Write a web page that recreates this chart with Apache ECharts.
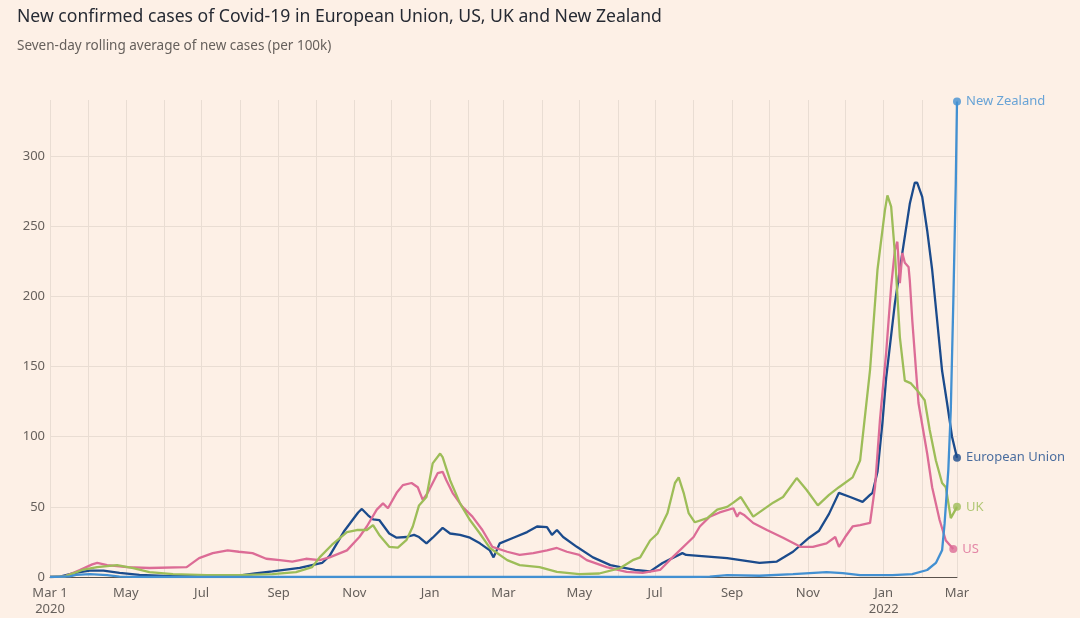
<!DOCTYPE html>
<html>
<head>
<meta charset="utf-8">
<script src="https://cdn.jsdelivr.net/npm/echarts/dist/echarts.min.js"></script>
<style>
  html, body { margin: 0; padding: 0; background: #fdf0e6; }
  #chart { width: 1080px; height: 618px; }
</style>
</head>
<body>
<div id="chart"></div>
<script>
// ---- Data (7-day rolling average of new cases per 100k) ----
const euSeries = [
  ['2020-03-01',0],['2020-03-09',0.3],['2020-03-21',3],['2020-04-02',4.5],['2020-04-13',4.5],['2020-04-26',3],
  ['2020-05-12',1.5],['2020-06-01',0.8],['2020-06-30',0.8],['2020-07-31',0.9],['2020-08-13',2.5],['2020-08-27',4],
  ['2020-09-18',6.5],['2020-10-06',10],['2020-10-12',15],['2020-10-24',33],['2020-11-04',46],['2020-11-07',48.5],
  ['2020-11-12',44],['2020-11-16',41],['2020-11-21',40.6],['2020-11-29',31],['2020-12-05',28],['2020-12-13',28.5],
  ['2020-12-19',30],['2020-12-23',28.5],['2020-12-29',24],['2021-01-03',28],['2021-01-11',35],['2021-01-17',31],
  ['2021-01-25',30],['2021-02-02',28],['2021-02-10',24],['2021-02-18',19],['2021-02-21',14],['2021-02-26',24],
  ['2021-03-09',28],['2021-03-20',32],['2021-03-28',36],['2021-04-05',35.6],['2021-04-09',30],['2021-04-13',33.5],
  ['2021-04-18',28.5],['2021-04-29',21.5],['2021-05-12',14],['2021-05-26',8.5],['2021-06-03',7],['2021-06-15',5],
  ['2021-06-27',4],['2021-07-07',10],['2021-07-23',17],['2021-07-26',15.7],['2021-08-28',13.5],['2021-09-23',10],
  ['2021-10-07',11],['2021-10-20',18],['2021-11-02',28],['2021-11-10',33],['2021-11-18',45],['2021-11-26',60],
  ['2021-12-05',57],['2021-12-15',53.5],['2021-12-21',58.5],['2021-12-23',60],['2021-12-27',75],['2021-12-31',110],
  ['2022-01-03',142],['2022-01-10',195],['2022-01-16',231],['2022-01-22',266],['2022-01-26',281],['2022-01-28',281],
  ['2022-02-01',271],['2022-02-05',247],['2022-02-09',219],['2022-02-13',183],['2022-02-17',147],['2022-02-21',124],
  ['2022-02-25',100],['2022-03-01',85]
];
const usSeries = [
  ['2020-03-01',0],['2020-03-13',0.5],['2020-03-25',5],['2020-04-04',9],['2020-04-08',10],['2020-04-16',8.5],
  ['2020-05-02',7],['2020-05-20',6.4],['2020-06-19',7],['2020-06-29',13.5],['2020-07-10',17],['2020-07-22',19],
  ['2020-07-31',18],['2020-08-11',17],['2020-08-22',13],['2020-09-02',12],['2020-09-12',11],['2020-09-23',13],
  ['2020-10-04',12],['2020-10-12',14],['2020-10-26',19],['2020-11-05',28.5],['2020-11-11',36],['2020-11-19',48],
  ['2020-11-24',52.5],['2020-11-28',49],['2020-12-05',60],['2020-12-10',65.5],['2020-12-17',67],['2020-12-22',64],
  ['2020-12-26',55],['2020-12-30',60],['2021-01-03',67],['2021-01-07',74],['2021-01-11',75],['2021-01-14',69],
  ['2021-01-19',60],['2021-01-27',50],['2021-02-04',43],['2021-02-12',33.5],['2021-02-20',21.5],['2021-03-04',18],
  ['2021-03-14',15.7],['2021-03-25',17],['2021-04-05',19],['2021-04-13',20.7],['2021-04-21',18],['2021-05-01',15.7],
  ['2021-05-07',12],['2021-05-23',7],['2021-06-08',3.6],['2021-06-21',3],['2021-07-05',5],['2021-07-15',14],
  ['2021-08-01',28.5],['2021-08-06',36],['2021-08-14',43],['2021-08-22',46],['2021-09-02',49],['2021-09-05',43],
  ['2021-09-07',46],['2021-09-11',44],['2021-09-18',38.5],['2021-09-29',33.5],['2021-10-12',28],['2021-10-26',21.5],
  ['2021-11-05',21.5],['2021-11-16',24],['2021-11-23',28.5],['2021-11-26',21.5],['2021-12-01',28.5],['2021-12-07',36],
  ['2021-12-13',37],['2021-12-21',38.5],['2021-12-25',64],['2021-12-29',112],['2022-01-03',160],['2022-01-07',207],
  ['2022-01-10',233],['2022-01-12',239],['2022-01-14',209.5],['2022-01-16',231],['2022-01-18',224],['2022-01-21',221],
  ['2022-01-22',211.5],['2022-01-24',183],['2022-01-27',147.5],['2022-01-29',124],['2022-02-05',88],['2022-02-09',64],
  ['2022-02-15',40.6],['2022-02-20',26],['2022-02-26',20]
];
const ukSeries = [
  ['2020-03-01',0],['2020-03-13',0.5],['2020-03-27',5],['2020-04-08',7],['2020-04-24',8.5],['2020-05-07',6.4],
  ['2020-05-20',3.5],['2020-06-08',2],['2020-07-05',1.3],['2020-07-31',1.3],['2020-08-27',2],['2020-09-15',3.5],
  ['2020-09-28',7],['2020-10-04',14],['2020-10-14',23],['2020-10-26',32],['2020-11-03',33.5],['2020-11-11',33.5],
  ['2020-11-16',37],['2020-11-21',30],['2020-11-29',21.5],['2020-12-06',21],['2020-12-13',26.5],['2020-12-18',36],
  ['2020-12-23',51],['2020-12-29',57],['2021-01-03',81],['2021-01-09',88],['2021-01-11',85.5],['2021-01-17',69],
  ['2021-01-25',52.5],['2021-02-02',40.6],['2021-02-10',31],['2021-02-18',20.7],['2021-03-04',12],['2021-03-14',8.5],
  ['2021-03-30',7],['2021-04-13',3.6],['2021-05-01',2],['2021-05-17',2.5],['2021-06-03',6.4],['2021-06-13',12],
  ['2021-06-19',14],['2021-06-27',26],['2021-07-03',31],['2021-07-11',45.6],['2021-07-17',67],['2021-07-20',71],
  ['2021-07-24',60],['2021-07-28',45.6],['2021-08-02',39],['2021-08-12',42],['2021-08-20',48],['2021-08-28',50],
  ['2021-09-02',53],['2021-09-08',57],['2021-09-13',50],['2021-09-18',43],['2021-09-26',48],['2021-10-04',53],
  ['2021-10-12',57],['2021-10-23',70.5],['2021-10-31',62],['2021-11-09',51],['2021-11-18',58.5],['2021-11-26',64],
  ['2021-12-07',71],['2021-12-13',83],['2021-12-21',147.5],['2021-12-27',219],['2022-01-02',261.5],['2022-01-04',272],
  ['2022-01-07',264],['2022-01-10',231],['2022-01-14',171],['2022-01-18',140],['2022-01-23',138],['2022-01-28',133],
  ['2022-02-03',126],['2022-02-07',105],['2022-02-12',83],['2022-02-17',67],['2022-02-20',64],['2022-02-24',42],
  ['2022-03-01',50]
];
const nzSeries = [
  ['2020-03-01',0],['2020-03-17',0.5],['2020-03-22',1.5],['2020-04-02',2.1],['2020-04-16',1.4],['2020-04-26',0.3],
  ['2020-05-20',0],['2021-07-29',0],['2021-08-14',0.3],['2021-08-28',1.4],['2021-09-23',0.9],['2021-10-20',2],
  ['2021-11-16',3.5],['2021-11-29',2.8],['2021-12-13',1.4],['2022-01-08',1.4],['2022-01-24',2],['2022-02-05',5],
  ['2022-02-12',10],['2022-02-17',19],['2022-02-19',38],['2022-02-22',76],['2022-02-24',119],['2022-02-26',195],
  ['2022-02-28',280],['2022-03-01',339]
];
const seriesNames = ['European Union', 'US', 'UK', 'New Zealand'];
const seriesColors = ['#1b4b8c', '#dc6c96', '#9dbd58', '#4290d2'];

const xLabelDates = ['2020-03-01','2020-05-01','2020-07-01','2020-09-01','2020-11-01','2021-01-01','2021-03-01',
  '2021-05-01','2021-07-01','2021-09-01','2021-11-01','2022-01-01','2022-03-01'];
const xLabelTexts = ['Mar 1\n2020','May','Jul','Sep','Nov','Jan','Mar','May','Jul','Sep','Nov','Jan\n2022','Mar'];
const yTickValues = [0, 50, 100, 150, 200, 250, 300];

// ---- Build ----
function ts(s) { const p = s.split('-').map(Number); return Date.UTC(p[0], p[1] - 1, p[2]); }
const xMin = ts('2020-03-01');
const xMax = ts('2022-03-01');
const monthTicks = [];
for (let y = 2020, m = 2; y < 2022 || (y === 2022 && m <= 2); ) {
  monthTicks.push(Date.UTC(y, m, 1));
  m++; if (m > 11) { m = 0; y++; }
}
const labelTs = xLabelDates.map(ts);
const allSeries = [euSeries, usSeries, ukSeries, nzSeries];
const toXY = d => d.map(p => [ts(p[0]), p[1]]);

const lineSeries = allSeries.map((d, i) => ({
  name: seriesNames[i],
  type: 'line',
  data: toXY(d),
  showSymbol: false,
  symbol: 'none',
  lineStyle: { color: seriesColors[i], width: 2.3 },
  itemStyle: { color: seriesColors[i] },
  z: 2 + i,
  silent: true
}));

const endPoints = {
  type: 'scatter',
  z: 10,
  symbolSize: 8,
  silent: true,
  data: allSeries.map((d, i) => {
    const last = d[d.length - 1];
    return {
      value: [ts(last[0]), last[1]],
      name: seriesNames[i],
      itemStyle: { color: seriesColors[i] },
      label: { color: seriesColors[i] }
    };
  }),
  label: {
    show: true,
    position: 'right',
    distance: 5,
    formatter: '{b}',
    fontFamily: 'Noto Sans',
    fontSize: 13
  }
};

const chart = echarts.init(document.getElementById('chart'), null, { renderer: 'canvas' });
chart.setOption({
  animation: false,
  backgroundColor: '#fdf0e6',
  title: {
    text: 'New confirmed cases of Covid-19 in European Union, US, UK and New Zealand',
    subtext: 'Seven-day rolling average of new cases (per 100k)',
    left: 12,
    top: 3,
    itemGap: 13,
    textStyle: { fontFamily: 'Noto Sans', fontSize: 17.6, fontWeight: 'normal', color: '#262a33' },
    subtextStyle: { fontFamily: 'Noto Sans', fontSize: 13.5, color: '#66605c' }
  },
  grid: { left: 50, right: 123, top: 100, bottom: 41 },
  xAxis: {
    type: 'value',
    min: xMin,
    max: xMax,
    axisLine: { show: true, lineStyle: { color: '#5a524c', width: 1 } },
    axisTick: { show: false, customValues: monthTicks },
    splitLine: { show: true, lineStyle: { color: '#e9ddd3', width: 1 } },
    axisLabel: {
      customValues: labelTs,
      formatter: function (v) {
        const idx = labelTs.indexOf(v);
        return idx >= 0 ? xLabelTexts[idx] : '';
      },
      fontFamily: 'Noto Sans',
      fontSize: 13,
      color: '#66605c',
      margin: 8,
      lineHeight: 16
    }
  },
  yAxis: {
    type: 'value',
    min: 0,
    max: 340,
    axisLine: { show: false },
    axisTick: { show: false, customValues: yTickValues },
    splitLine: { show: true, lineStyle: { color: '#e9ddd3', width: 1 } },
    axisLabel: {
      customValues: yTickValues,
      fontFamily: 'Noto Sans',
      fontSize: 13,
      color: '#66605c',
      margin: 5
    }
  },
  series: lineSeries.concat([endPoints])
});
</script>
</body>
</html>
